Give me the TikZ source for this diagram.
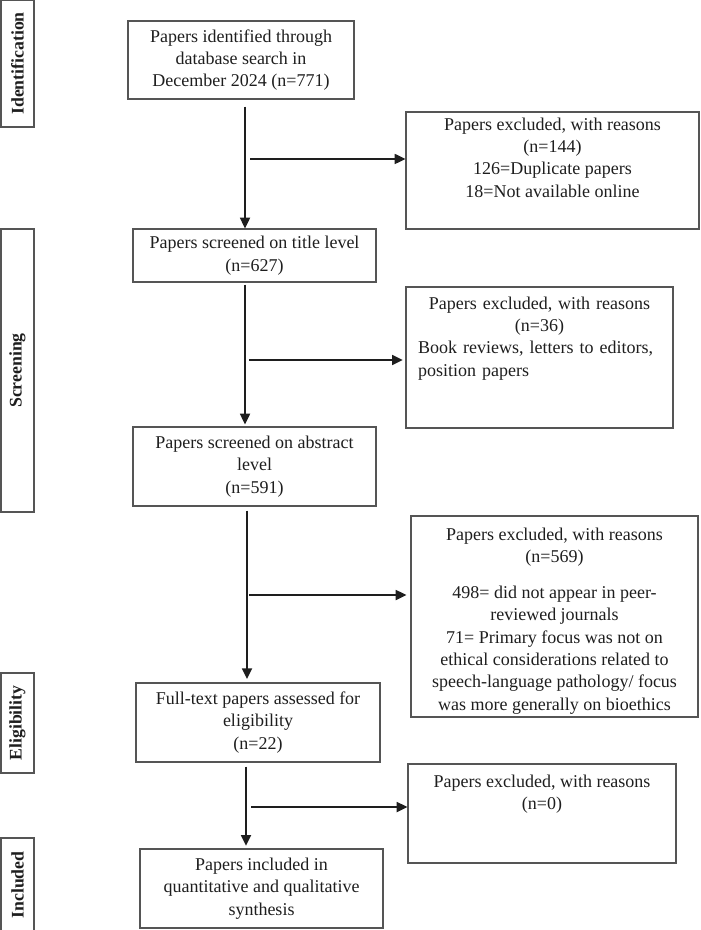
\documentclass[tikz,border=0pt]{standalone}
\usepackage{fontspec}
\setmainfont{Liberation Serif}
\usetikzlibrary{arrows.meta,fit,calc}
\definecolor{edge}{RGB}{85,85,85}
\definecolor{ink}{RGB}{30,30,30}
\begin{document}
\begin{tikzpicture}[x=0.75pt,y=-0.75pt,
  every node/.style={font=\fontsize{13.5}{16.8}\selectfont, text=ink},
  box/.style={draw=edge, line width=0.9pt, inner sep=0pt},
  stagetext/.style={rotate=90, inner sep=0pt, font=\fontsize{13.3}{16}\selectfont\bfseries},
  label/.style={align=center, inner sep=0pt},
  note/.style={anchor=north, align=center, inner sep=0pt},
  flow/.style={draw=ink, line width=1.3pt, -{Triangle[length=8pt,width=7.5pt]}},
]
\useasboundingbox (0,0) rectangle (700,930);

% stage labels on the left
\node[box, fit={(1,0) (34,127)}] (sid) {};
\node[stagetext] (sidt) at (sid) {Identification};
\node[box, fit={(1,229) (34,512)}] (sscr) {};
\node[stagetext] (sscrt) at (sscr) {Screening};
\node[box, fit={(1,673) (34,773)}] (sel) {};
\node[stagetext] (selt) at (sel) {Eligibility};
\node[box, fit={(1,838) (34,932)}] (sinc) {};
\node[stagetext] (sinct) at (sinc) {Included};

% main flow boxes
\node[box, fit={(128,21) (354,99)}] (b1) {};
\node[label] (b1t) at (b1) {Papers identified through\\database search in\\December 2024 (n=771)};
\node[box, fit={(133,229) (376,282)}] (b2) {};
\node[label] (b2t) at (b2) {Papers screened on title level\\(n=627)};
\node[box, fit={(133,427) (376,506)}] (b3) {};
\node[label] (b3t) at (b3) {Papers screened on abstract\\level\\(n=591)};
\node[box, fit={(136,683) (380,762)}] (b4) {};
\node[label] (b4t) at (b4) {Full-text papers assessed for\\eligibility\\(n=22)};
\node[box, fit={(140,849) (383,928)}] (b5) {};
\node[label] (b5t) at (b5) {Papers included in\\quantitative and qualitative\\synthesis};

% exclusion boxes
\node[box, fit={(406,112) (699,229)}] (e1) {};
\node[note] (e1t) at ($(e1.north)+(0,6)$) {Papers excluded, with reasons\\(n=144)\\126=Duplicate papers\\18=Not available online};

\node[box, fit={(406,287) (673,428)}] (e2) {};
\node[anchor=north, inner sep=0pt, text width=182pt] (e2t) at ($(e2.north)+(0,10)$)
  {\centering Papers excluded, with reasons\\(n=36)\par\raggedright Book reviews, letters to editors,\\position papers\par};

\node[box, fit={(411,516) (698,717)}] (e3) {};
\node[note] (e3t) at ($(e3.north)+(0,12)$) {Papers excluded, with reasons\\(n=569)\\[10pt]498= did not appear in peer-\\reviewed journals\\71= Primary focus was not on\\ethical considerations related to\\speech-language pathology/ focus\\was more generally on bioethics};

\node[box, fit={(408,764) (676,863)}] (e4) {};
\node[note] (e4t) at ($(e4.north)+(0,11)$) {Papers excluded, with reasons\\(n=0)};

% vertical flow arrows
\coordinate (a1) at ($(b1.south)+(4,7)$);
\coordinate (a2) at ($(b2.south)+(-9.5,2)$);
\coordinate (a3) at ($(b3.south)+(-7.5,4)$);
\coordinate (a4) at ($(b4.south)+(-12,4)$);
\draw[flow] (a1) -- (a1 |- b2.north);
\draw[flow, shorten >=1.5pt] (a2) -- (a2 |- b3.north);
\draw[flow, shorten >=2.5pt] (a3) -- (a3 |- b4.north);
\draw[flow, shorten >=2pt] (a4) -- (a4 |- b5.north);

% branches to the exclusion boxes
\coordinate (s1) at (250,159);
\coordinate (s2) at (249,360);
\coordinate (s3) at (249,595);
\coordinate (s4) at (251,807);
\draw[flow] (s1) -- (s1 -| e1.west);
\draw[flow, shorten >=2pt] (s2) -- (s2 -| e2.west);
\draw[flow, shorten >=3pt] (s3) -- (s3 -| e3.west);
\draw[flow] (s4) -- (s4 -| e4.west);
\end{tikzpicture}
\end{document}
